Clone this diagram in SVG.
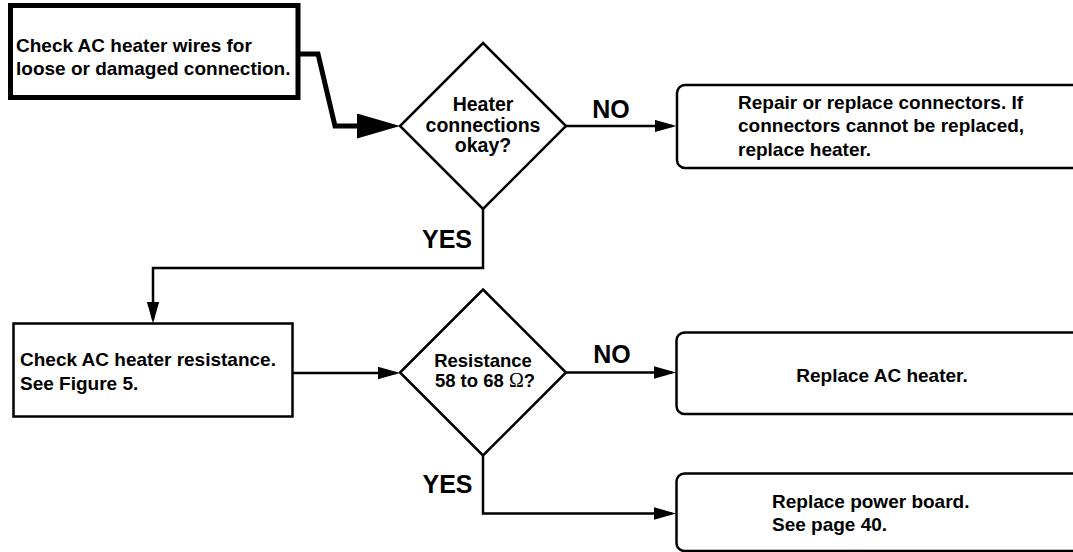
<svg xmlns="http://www.w3.org/2000/svg" width="1073" height="552" viewBox="0 0 1073 552">
<style>
.box{fill:#fff;stroke:#000;stroke-width:2.5}
.thick{fill:#fff;stroke:#000;stroke-width:5}
.dia{fill:#fff;stroke:#000;stroke-width:2.5;stroke-linejoin:miter}
.con{fill:none;stroke:#000;stroke-width:2.5}
.conth{fill:none;stroke:#000;stroke-width:5;stroke-linejoin:miter}
text{font-family:"Liberation Sans",Arial,Helvetica,sans-serif;font-weight:bold;fill:#000}
.t{font-size:19px}
.d{font-size:19.5px;text-anchor:middle}
.d2{font-size:18.5px;text-anchor:middle}
.lbl{font-size:25px;text-anchor:middle}
.c{text-anchor:middle}
.sym{font-family:"Liberation Serif","Times New Roman",serif;font-weight:normal}
</style>
<defs>
<marker id="arr" markerUnits="userSpaceOnUse" markerWidth="22" markerHeight="13" refX="18" refY="6.25" orient="auto">
<path d="M0,0 L22,6.25 L0,12.5 Z" fill="#000"/>
</marker>
<marker id="arrBig" markerUnits="userSpaceOnUse" markerWidth="43" markerHeight="25" refX="33" refY="12.5" orient="auto">
<path d="M0,0 L43,12.5 L0,25 Z" fill="#000"/>
</marker>
</defs>
<rect width="1073" height="552" fill="#fff"/>
<g id="connectors">
<path class="conth" d="M300 54 H318 L335 126 H390" marker-end="url(#arrBig)"/>
<path class="con" d="M566 126 H672.5" marker-end="url(#arr)"/>
<path class="con" d="M483 209 V268 H153 V319.5" marker-end="url(#arr)"/>
<path class="con" d="M292.5 373 H396" marker-end="url(#arr)"/>
<path class="con" d="M566 372.5 H672" marker-end="url(#arr)"/>
<path class="con" d="M483 455.5 V513.5 H672" marker-end="url(#arr)"/>
<text class="lbl" x="611" y="118">NO</text>
<text class="lbl" x="447" y="248">YES</text>
<text class="lbl" x="612" y="363">NO</text>
<text class="lbl" x="447.5" y="493">YES</text>
</g>
<g id="check-wires">
<rect class="thick" x="10.5" y="5.5" width="287.5" height="92"/>
<text class="t" x="16" y="52">Check AC heater wires for</text>
<text class="t" x="16" y="75">loose or damaged connection.</text>
</g>
<g id="connections-ok">
<polygon class="dia" points="483,43 566,126 483,209 400,126"/>
<text class="d" x="483" y="111">Heater</text>
<text class="d" x="483" y="131.5">connections</text>
<text class="d" x="483" y="151.5">okay?</text>
</g>
<g id="repair-connectors">
<rect class="box" x="677" y="85" width="420" height="83" rx="8"/>
<text class="t" x="738" y="108.5">Repair or replace connectors. If</text>
<text class="t" x="738" y="132">connectors cannot be replaced,</text>
<text class="t" x="738" y="155.5">replace heater.</text>
</g>
<g id="check-resistance">
<rect class="box" x="13.5" y="323.5" width="279" height="93"/>
<text class="t" x="20" y="366">Check AC heater resistance.</text>
<text class="t" x="20" y="389.5">See Figure 5.</text>
</g>
<g id="resistance-ok">
<polygon class="dia" points="483,289.5 566,372.5 483,455.5 400,372.5"/>
<text class="d2" x="483" y="366.5">Resistance</text>
<text class="d2" x="485" y="386.5">58 to 68 <tspan class="sym" font-size="20">Ω</tspan>?</text>
</g>
<g id="replace-heater">
<rect class="box" x="676.5" y="332.5" width="420" height="81.5" rx="8"/>
<text class="t c" x="882" y="382">Replace AC heater.</text>
</g>
<g id="replace-board">
<rect class="box" x="676.5" y="473.5" width="420" height="77.5" rx="8"/>
<text class="t" x="772" y="508">Replace power board.</text>
<text class="t" x="772" y="531">See page 40.</text>
</g>
</svg>
